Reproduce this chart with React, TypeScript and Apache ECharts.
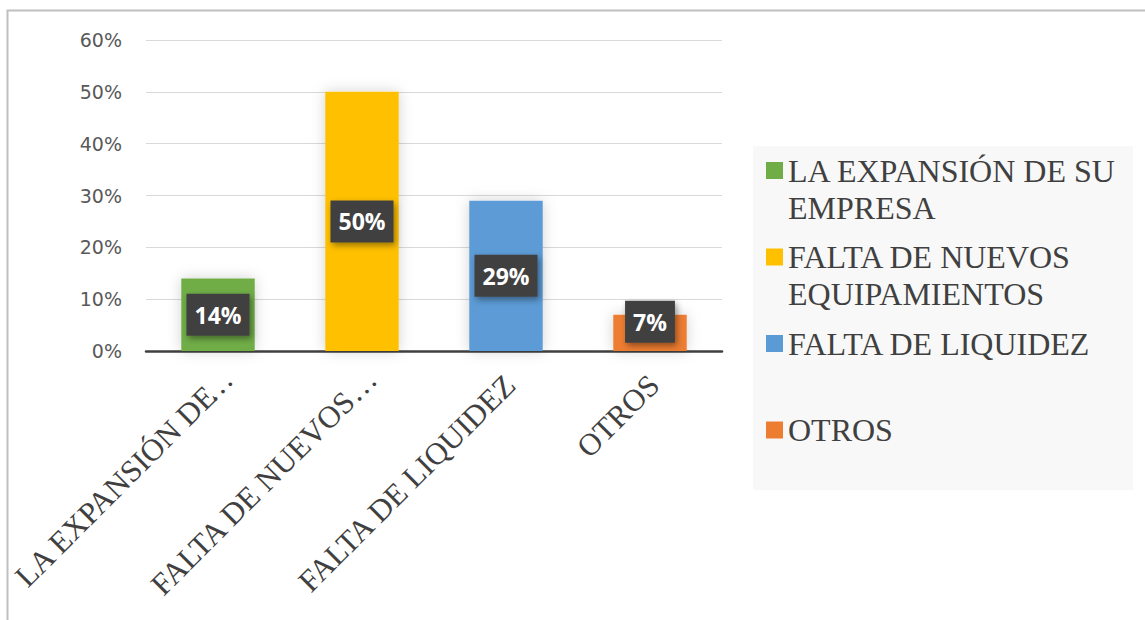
import React, { useEffect, useRef } from "react";
import * as echarts from "echarts";

const categories = [
  "LA EXPANSIÓN DE SU EMPRESA",
  "FALTA DE NUEVOS EQUIPAMIENTOS",
  "FALTA DE LIQUIDEZ",
  "OTROS",
];
const tickLabels = ["LA EXPANSIÓN DE…", "FALTA DE NUEVOS …", "FALTA DE LIQUIDEZ", "OTROS"];
const legendLines = [
  ["LA EXPANSIÓN DE SU", "EMPRESA"],
  ["FALTA DE NUEVOS", "EQUIPAMIENTOS"],
  ["FALTA DE LIQUIDEZ", ""],
  ["OTROS", ""],
];
const values = [0.14, 0.5, 0.29, 0.07];
const colors = ["#70ad47", "#ffc000", "#5b9bd5", "#ed7d31"];

export default function App() {
  const ref = useRef<HTMLDivElement>(null);
  useEffect(() => {
    document.body.style.margin = "0";
    if (!ref.current) return;
    const chart = echarts.init(ref.current, null, { renderer: "svg" });
    const series = categories.map((name, i) => ({
      name,
      type: "bar",
      barWidth: "51%",
      barGap: "-100%",
      itemStyle: {
        color: colors[i],
        shadowBlur: 14,
        shadowColor: "rgba(0,0,0,0.18)",
      },
      label: {
        show: true,
        position: "inside",
        offset: i === 3 ? [0, -11] : [0, 0],
        formatter: (p: any) => Math.round(p.value * 100) + "%",
        fontFamily: "Open Sans",
        fontWeight: "bold",
        fontSize: 23,
        lineHeight: 24,
        color: "#ffffff",
        backgroundColor: "#404040",
        padding: [9, 8],
        shadowBlur: 6,
        shadowOffsetX: 2,
        shadowOffsetY: 3,
        shadowColor: "rgba(0,0,0,0.4)",
      },
      data: categories.map((_, j) => (j === i ? values[i] : "-")),
    }));
    const labelFont = { fontFamily: "Liberation Serif", fontSize: 31, color: "#404040", lineHeight: 31 };
    chart.setOption({
      animation: false,
      backgroundColor: "#ffffff",
      grid: { left: 146, right: 423, top: 40, bottom: 269, outerBoundsMode: "none", containLabel: false },
      graphic: [
        {
          type: "rect",
          shape: { x: 7.5, y: 10.5, width: 1160, height: 640 },
          style: { fill: "none", stroke: "#bfbfbf", lineWidth: 2 },
          silent: true,
        },
        {
          type: "rect",
          shape: { x: 753, y: 146, width: 380, height: 344 },
          style: { fill: "#f8f8f8" },
          silent: true,
          z: -10,
        },
      ],
      legend: {
        orient: "vertical",
        left: 766,
        top: 115,
        padding: 0,
        itemGap: -24.5,
        itemWidth: 17,
        itemHeight: 17,
        icon: "rect",
        data: categories,
        formatter: (name: string) => {
          const i = categories.indexOf(name);
          return "\n" + legendLines[i][0] + "\n" + (legendLines[i][1] || " ");
        },
        textStyle: {
          fontFamily: "Liberation Serif",
          fontSize: 32,
          lineHeight: 37,
          color: "#404040",
        },
      },
      xAxis: {
        type: "category",
        data: categories,
        axisLine: { lineStyle: { color: "#404040", width: 2.5 } },
        axisTick: { length: 9, lineStyle: { color: "#404040", width: 2.5 } },
        axisLabel: {
          rotate: 45,
          margin: 25,
          interval: 0,
          verticalAlign: "middle",
          padding: [11, 0, 0, 0],
          ...labelFont,
          rich: {
            t: { ...labelFont },
            e: { ...labelFont, width: 15, align: "left" },
          },
          formatter: (_: string, idx: number) => {
            const s = tickLabels[idx];
            if (s.endsWith("…")) return "{t|" + s.slice(0, -1) + "}{e|…}";
            return s;
          },
        },
      },
      yAxis: {
        type: "value",
        min: 0,
        max: 0.6,
        interval: 0.1,
        axisLine: { show: false },
        axisTick: { show: false },
        splitLine: { lineStyle: { color: "#d9d9d9", width: 1 } },
        axisLabel: {
          margin: 24,
          fontFamily: "DejaVu Sans",
          fontSize: 19,
          color: "#595959",
          formatter: (v: number) => Math.round(v * 100) + "%",
        },
      },
      series,
    });
    return () => chart.dispose();
  }, []);
  return <div ref={ref} style={{ width: 1145, height: 620 }} />;
}
